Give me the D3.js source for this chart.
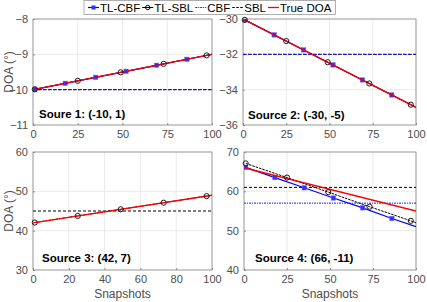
<!DOCTYPE html>
<html>
<head>
<meta charset="utf-8">
<script src="https://cdn.jsdelivr.net/npm/d3@7"></script>
<style>
  body { margin: 0; background: #fff; }
  text { font-family: "Liberation Sans", Arial, sans-serif; }
</style>
</head>
<body>
<svg id="chart"></svg>
<script>
// snapshot indices where markers sit (last entry = line end)
const cbfSnaps = [1, 18, 35, 52, 69, 86, 100];
const sblSnaps = [1, 25, 49, 73, 97, 100];
const trueSnaps = [0, 100];

const titles = ["Soure 1: (-10, 1)", "Source 2: (-30, -5)", "Source 3: (42, 7)", "Source 4: (66, -11)"];

const tlCbf1 = [-9.99, -9.82, -9.65, -9.48, -9.31, -9.14, -9.0];
const tlCbf2 = [-30.05, -30.9, -31.75, -32.6, -33.45, -34.3, -35.0];
const tlCbf3 = null;
const tlCbf4 = [66.1, 63.5, 60.9, 58.3, 55.8, 53.1, 51.0];

const tlSbl1 = [-9.99, -9.75, -9.51, -9.27, -9.03, -9.0];
const tlSbl2 = [-30.05, -31.25, -32.45, -33.65, -34.85, -35.0];
const tlSbl3 = [42.07, 43.75, 45.43, 47.11, 48.79, 49.0];
const tlSbl4 = [67.1, 63.5, 59.8, 56.1, 52.5, 52.0];

const trueDoa1 = [-10, -9];
const trueDoa2 = [-30, -35];
const trueDoa3 = [42, 49];
const trueDoa4 = [66, 55];

const cbfVals = [-10, -32, null, 57];
const sblVals = [-10, -32, 45, 61];

const yDomains = [[-11, -8], [-36, -30], [30, 60], [40, 70]];
const yTicks = [[-11, -10, -9, -8], [-36, -34, -32, -30], [30, 40, 50, 60], [40, 50, 60, 70]];
const xTicks = [[0, 25, 50, 75, 100], [0, 25, 50, 75, 100], [0, 20, 40, 60, 80, 100], [0, 25, 50, 75, 100]];

const legendNames = ["TL-CBF", "TL-SBL", "CBF", "SBL", "True DOA"];

const W = 427, H = 302;
const svg = d3.select("#chart").attr("width", W).attr("height", H);

// panel boxes
const boxes = [
  {x0: 33, x1: 212, y0: 19, y1: 125},
  {x0: 243, x1: 416, y0: 19, y1: 125},
  {x0: 33, x1: 212, y0: 152, y1: 270},
  {x0: 244, x1: 416, y0: 152, y1: 270}
];
const titlePos = [[39, 118], [248, 119], [42, 262], [255, 262]];

const tlCbf = [tlCbf1, tlCbf2, tlCbf3, tlCbf4];
const tlSbl = [tlSbl1, tlSbl2, tlSbl3, tlSbl4];
const trueDoa = [trueDoa1, trueDoa2, trueDoa3, trueDoa4];

const axisCol = "#8c8c8c", gridCol = "#e4e4e4", textCol = "#4d4d4d";

boxes.forEach((b, i) => {
  const x = d3.scaleLinear().domain([0, 100]).range([b.x0, b.x1]);
  const y = d3.scaleLinear().domain(yDomains[i]).range([b.y1, b.y0]);
  const g = svg.append("g");

  const clipId = "clip" + i;
  g.append("clipPath").attr("id", clipId).append("rect")
    .attr("x", b.x0).attr("y", b.y0).attr("width", b.x1 - b.x0).attr("height", b.y1 - b.y0);

  // grid
  g.selectAll(".gx").data(xTicks[i]).enter().append("line")
    .attr("x1", d => x(d)).attr("x2", d => x(d)).attr("y1", b.y0).attr("y2", b.y1)
    .attr("stroke", gridCol).attr("stroke-width", 0.8);
  g.selectAll(".gy").data(yTicks[i]).enter().append("line")
    .attr("y1", d => y(d)).attr("y2", d => y(d)).attr("x1", b.x0).attr("x2", b.x1)
    .attr("stroke", gridCol).attr("stroke-width", 0.8);

  // axes
  const fmt = d3.format("d");
  const xAxis = d3.axisBottom(x).tickValues(xTicks[i]).tickFormat(fmt).tickSizeInner(-2).tickSizeOuter(0).tickPadding(5);
  const yAxis = d3.axisLeft(y).tickValues(yTicks[i]).tickFormat(fmt).tickSizeInner(-2).tickSizeOuter(0).tickPadding(5);
  const ax = g.append("g").attr("transform", `translate(0,${b.y1})`).call(xAxis);
  const ay = g.append("g").attr("transform", `translate(${b.x0},0)`).call(yAxis);
  [ax, ay].forEach(a => {
    a.select(".domain").remove();
    a.selectAll("line").attr("stroke", axisCol);
    a.selectAll("text").attr("fill", textCol).style("font-size", "11px");
  });
  g.append("rect").attr("x", b.x0).attr("y", b.y0).attr("width", b.x1 - b.x0).attr("height", b.y1 - b.y0)
    .attr("fill", "none").attr("stroke", axisCol).attr("stroke-width", 0.8);

  const plot = g.append("g").attr("clip-path", `url(#${clipId})`);
  const line = d3.line().x(d => x(d[0])).y(d => y(d[1]));

  // constant estimates
  if (sblVals[i] !== null) {
    plot.append("path").attr("d", line([[0, sblVals[i]], [100, sblVals[i]]]))
      .attr("stroke", "#000").attr("stroke-width", 1).attr("stroke-dasharray", "3,2").attr("fill", "none");
  }
  if (cbfVals[i] !== null) {
    plot.append("path").attr("d", line([[0, cbfVals[i]], [100, cbfVals[i]]]))
      .attr("stroke", "#1a1aff").attr("stroke-width", 1).attr("stroke-dasharray", "2,1,1,1").attr("fill", "none");
  }

  // TL-CBF
  if (tlCbf[i]) {
    const pts = cbfSnaps.map((s, k) => [s, tlCbf[i][k]]);
    plot.append("path").attr("d", line(pts)).attr("stroke", "#0000ff").attr("stroke-width", 1.2).attr("fill", "none");
    plot.selectAll(".sq").data(pts.slice(0, -1)).enter().append("rect")
      .attr("x", d => x(d[0]) - 2.2).attr("y", d => y(d[1]) - 2.2)
      .attr("width", 4.4).attr("height", 4.4).attr("fill", "#3333ff").attr("stroke", "#6666ff").attr("stroke-width", 0.5);
  }
  // TL-SBL
  if (tlSbl[i]) {
    const pts = sblSnaps.map((s, k) => [s, tlSbl[i][k]]);
    plot.append("path").attr("d", line(pts)).attr("stroke", "#000").attr("stroke-width", 1)
      .attr("stroke-dasharray", "2.5,1").attr("fill", "none");
  }
  // True DOA
  const tp = trueSnaps.map((s, k) => [s, trueDoa[i][k]]);
  plot.append("path").attr("d", line(tp)).attr("stroke", "#ff0000").attr("stroke-width", 1.3).attr("fill", "none");

  if (tlSbl[i]) {
    const pts = sblSnaps.map((s, k) => [s, tlSbl[i][k]]);
    g.selectAll(".ci").data(pts.slice(0, -1)).enter().append("circle")
      .attr("cx", d => x(d[0])).attr("cy", d => y(d[1])).attr("r", 2.6)
      .attr("fill", "none").attr("stroke", "#1a1a1a").attr("stroke-width", 1);
  }

  g.append("text").attr("x", titlePos[i][0]).attr("y", titlePos[i][1])
    .attr("font-weight", "bold").style("font-size", "11.5px").attr("fill", "#000").text(titles[i]);

  if (i % 2 === 0) {
    g.append("text").attr("transform", `translate(13,${(b.y0 + b.y1) / 2}) rotate(-90)`)
      .attr("text-anchor", "middle").style("font-size", "12px").attr("fill", textCol).text("DOA (°)");
  }
  if (i >= 2) {
    g.append("text").attr("x", (b.x0 + b.x1) / 2).attr("y", 298)
      .attr("text-anchor", "middle").style("font-size", "12px").attr("fill", textCol).text("Snapshots");
  }
});

// legend
const leg = svg.append("g");
const legBox = leg.append("rect").attr("x", 84).attr("y", 0.5).attr("width", 248).attr("height", 14)
  .attr("fill", "#fff").attr("stroke", "#999").attr("stroke-width", 0.8);
let lx = 88;
legendNames.forEach((name, k) => {
  const ly = 7.5;
  const seg = leg.append("line").attr("x1", lx).attr("x2", lx + 11).attr("y1", ly).attr("y2", ly).attr("fill", "none");
  if (k === 0) seg.attr("stroke", "#0000ff").attr("stroke-width", 1.2);
  if (k === 1) seg.attr("stroke", "#000").attr("stroke-width", 1);
  if (k === 2) seg.attr("stroke", "#1a1aff").attr("stroke-dasharray", "2,1,1,1");
  if (k === 3) seg.attr("stroke", "#000").attr("stroke-dasharray", "2.5,1.5");
  if (k === 4) seg.attr("stroke", "#ff0000").attr("stroke-width", 1.3);
  if (k === 0) leg.append("rect").attr("x", lx + 3.5).attr("y", ly - 2).attr("width", 4).attr("height", 4).attr("fill", "#3333ff");
  if (k === 1) leg.append("circle").attr("cx", lx + 5.5).attr("cy", ly).attr("r", 2.2).attr("fill", "none").attr("stroke", "#000");
  const t = leg.append("text").attr("x", lx + 12).attr("y", ly + 4).style("font-size", "11.5px").attr("fill", "#000").text(name);
  lx += 12 + t.node().getComputedTextLength() + 2;
});
legBox.attr("width", lx - 84 + 2);
</script>
</body>
</html>
